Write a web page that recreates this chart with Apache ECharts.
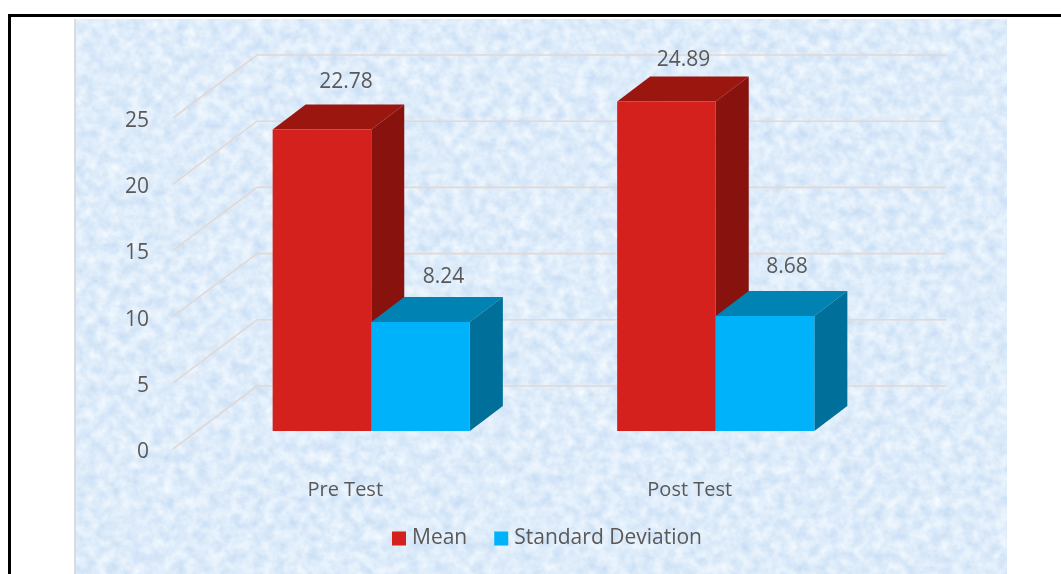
<!DOCTYPE html>
<html>
<head>
<meta charset="utf-8">
<style>
html,body{margin:0;padding:0;background:#fff;width:1061px;height:574px;overflow:hidden}
#frameTop{position:absolute;left:8px;top:14px;width:1053px;height:3px;background:#000}
#frameLeft{position:absolute;left:8px;top:14px;width:3px;height:560px;background:#000}
#tex{position:absolute;left:75px;top:19px;width:932px;height:555px}
#edge{position:absolute;left:74px;top:19px;width:2px;height:555px;background:#DADADF}
#chart{position:absolute;left:0;top:0;width:1061px;height:574px}
</style>
<script src="https://cdn.jsdelivr.net/npm/echarts@6/dist/echarts.min.js"></script>
</head>
<body>
<div id="frameTop"></div><div id="frameLeft"></div>
<svg id="tex" xmlns="http://www.w3.org/2000/svg">
  <filter id="n" x="0" y="0" width="100%" height="100%" color-interpolation-filters="sRGB">
    <feTurbulence type="fractalNoise" baseFrequency="0.09" numOctaves="4" seed="7"/>
    <feColorMatrix type="matrix" values="0.22 0 0 0 0.76  0.14 0 0 0 0.855  0.05 0 0 0 0.955  0 0 0 0 1"/>
  </filter>
  <rect width="100%" height="100%" filter="url(#n)"/>
</svg>
<div id="edge"></div>
<div id="chart"></div>
<script>
const categories = ['Pre Test', 'Post Test'];
const meanValues = [22.78, 24.89];
const sdValues = [8.24, 8.68];
const yTicks = [0, 5, 10, 15, 20, 25];
const seriesNames = ['Mean', 'Standard Deviation'];

const FONT = '"Open Sans", sans-serif';
const TEXT = '#595959';
const WALL_DX = 84, WALL_DY = -63;    // floor depth of the 3D box
const BAR_DX = 26, BAR_DY = -18;      // bars stand part-way into the floor
const DEPTH_DX = 33, DEPTH_DY = -25;  // depth of a single bar
const BAR_FRAC = 0.2862;              // bar width / category band

const chart = echarts.init(document.getElementById('chart'), null, {renderer: 'canvas'});

function gridRender(params, api) {
  const cs = params.coordSys;
  const y = api.coord([0, api.value(1)])[1];
  return {
    type: 'polyline',
    shape: {points: [[cs.x, y], [cs.x + WALL_DX, y + WALL_DY], [cs.x + cs.width + WALL_DX, y + WALL_DY]]},
    style: {stroke: '#E2D8D4', lineWidth: 1.6, fill: null}
  };
}

function barRender(slot, front, top, side, labelNudges) {
  return function (params, api) {
    const band = api.size([1, 0])[0];
    const w = band * BAR_FRAC;
    const c = api.coord([api.value(0), api.value(1)]);
    const b = api.coord([api.value(0), 0]);
    const x0 = c[0] + BAR_DX + slot * w;
    const x1 = x0 + w;
    const yT = c[1] + BAR_DY;
    const yB = b[1] + BAR_DY;
    const n = labelNudges[params.dataIndex];
    return {
      type: 'group',
      children: [
        {type: 'polygon', shape: {points: [[x0, yT], [x1, yT], [x1 + DEPTH_DX, yT + DEPTH_DY], [x0 + DEPTH_DX, yT + DEPTH_DY]]},
          style: {fill: top}},
        {type: 'polygon', shape: {points: [[x1, yT], [x1 + DEPTH_DX, yT + DEPTH_DY], [x1 + DEPTH_DX, yB + DEPTH_DY], [x1, yB]]},
          style: {fill: side}},
        {type: 'rect', shape: {x: x0, y: yT, width: w, height: yB - yT}, style: {fill: front}},
        {type: 'text',
          x: (x0 + x1) / 2 + n[0], y: yT + DEPTH_DY + n[1],
          style: {
            text: api.value(1).toFixed(2),
            fill: TEXT, fontFamily: 'Open Sans', fontSize: 21, align: 'center', verticalAlign: 'middle'}}
      ]
    };
  };
}

chart.setOption({
  animation: false,
  backgroundColor: 'transparent',
  grid: {left: 173, top: 118, width: 689, height: 331},
  legend: {
    data: seriesNames,
    left: 387, top: 523,
    icon: 'rect', itemWidth: 14, itemHeight: 14, itemGap: 27,
    textStyle: {color: TEXT, fontFamily: FONT, fontSize: 21, padding: [0, 0, 0, 1]}
  },
  xAxis: {
    type: 'category', data: categories,
    axisLine: {show: false}, axisTick: {show: false},
    axisLabel: {color: TEXT, fontFamily: FONT, fontSize: 20, margin: 31}
  },
  yAxis: {
    type: 'value', min: 0, max: 25, interval: 5,
    axisLine: {show: false}, axisTick: {show: false}, splitLine: {show: false},
    axisLabel: {color: TEXT, fontFamily: FONT, fontSize: 21, margin: 24, verticalAlign: 'top', lineHeight: 6}
  },
  series: [
    {type: 'custom', name: 'walls', silent: true, z: 1,
      data: yTicks.map(v => [0, v]), encode: {x: 0, y: 1}, renderItem: gridRender},
    {type: 'custom', name: seriesNames[0], z: 2, itemStyle: {color: '#D5211D'},
      data: meanValues.map((v, i) => [i, v]), encode: {x: 0, y: 1},
      renderItem: barRender(-1, '#D5211D', '#9C1610', '#87120E', [[24, -22], [17, -16]])},
    {type: 'custom', name: seriesNames[1], z: 3, itemStyle: {color: '#00B2FA'},
      data: sdValues.map((v, i) => [i, v]), encode: {x: 0, y: 1},
      renderItem: barRender(0, '#00B2FA', '#0083B2', '#006F99', [[23, -20], [22, -24]])}
  ]
});
</script>
</body>
</html>
